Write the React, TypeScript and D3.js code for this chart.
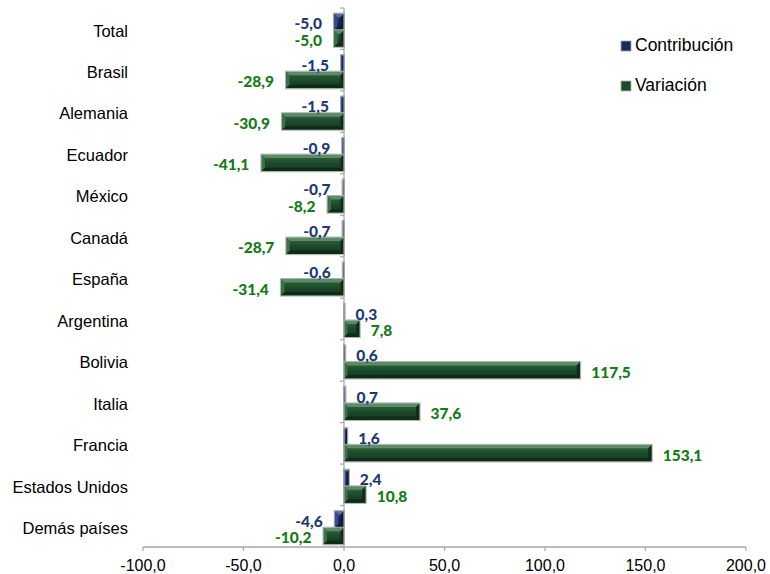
import React from "react";
import * as d3 from "d3";

const categories = [
  "Total", "Brasil", "Alemania", "Ecuador", "México", "Canadá", "España",
  "Argentina", "Bolivia", "Italia", "Francia", "Estados Unidos", "Demás países",
];
const contribucion = [-5.0, -1.5, -1.5, -0.9, -0.7, -0.7, -0.6, 0.3, 0.6, 0.7, 1.6, 2.4, -4.6];
const variacion = [-5.0, -28.9, -30.9, -41.1, -8.2, -28.7, -31.4, 7.8, 117.5, 37.6, 153.1, 10.8, -10.2];
const xTicks = [-100, -50, 0, 50, 100, 150, 200];
const seriesNames = ["Contribución", "Variación"];

const W = 770;
const H = 574;

const fmt = (v: number) => v.toFixed(1).replace(".", ",");

const palettes = [
  { id: "navy", center: ["#33467f", "#1a285c", "#121d48"], top: "#5b6aa0", bottom: "#0d1638", left: "#3a4b85", right: "#0f1a42", stroke: "#9aa3b8", label: "#1F3A73", dy: 2 },
  { id: "green", center: ["#2f6a40", "#1d4b2b", "#13371e"], top: "#5f8a69", bottom: "#0f2a17", left: "#3d7049", right: "#112d19", stroke: "#a7b6a9", label: "#157A18", dy: 2 },
];

function BevelBar({ x0, x1, y0, y1, p }: { x0: number; x1: number; y0: number; y1: number; p: typeof palettes[0] }) {
  const w = x1 - x0;
  const h = y1 - y0;
  const b = Math.min(3.5, w / 2, h / 2);
  const pts = (a: number[][]) => a.map((q) => q.join(",")).join(" ");
  return (
    <g>
      <rect x={x0} y={y0} width={Math.max(w, 0.5)} height={h} fill={`url(#grad-${p.id})`} />
      {w > 2 && (
        <>
          <polygon points={pts([[x0, y0], [x1, y0], [x1 - b, y0 + b], [x0 + b, y0 + b]])} fill={p.top} />
          <polygon points={pts([[x0, y1], [x1, y1], [x1 - b, y1 - b], [x0 + b, y1 - b]])} fill={p.bottom} />
          <polygon points={pts([[x0, y0], [x0 + b, y0 + b], [x0 + b, y1 - b], [x0, y1]])} fill={p.left} />
          <polygon points={pts([[x1, y0], [x1 - b, y0 + b], [x1 - b, y1 - b], [x1, y1]])} fill={p.right} />
        </>
      )}
      <rect x={x0 - 0.5} y={y0 - 0.5} width={Math.max(w, 0.5) + 1} height={h + 1} fill="none" stroke={p.stroke} strokeWidth={1} />
    </g>
  );
}

export default function App() {
  const x = d3.scaleLinear().domain([-100, 200]).range([143, 746]);
  const y = d3.scaleBand<string>().domain(categories).range([8, 547]).paddingInner(0.2).paddingOuter(0.1);
  const sub = d3.scaleBand<number>().domain([0, 1]).range([1.5, y.bandwidth() + 1.5]);
  const step = y.step();
  const x0 = x(0);
  const series = [contribucion, variacion];

  return (
    <svg width={W} height={H} style={{ position: "absolute", left: 0, top: 0 }}>
      <defs>
        {palettes.map((p) => (
          <linearGradient key={p.id} id={`grad-${p.id}`} x1="0" y1="0" x2="0" y2="1">
            <stop offset="0" stopColor={p.center[0]} />
            <stop offset="0.5" stopColor={p.center[1]} />
            <stop offset="1" stopColor={p.center[2]} />
          </linearGradient>
        ))}
      </defs>
      <rect width={W} height={H} fill="#fff" />

      {/* bars */}
      {categories.map((c, i) =>
        series.map((s, k) => {
          const v = s[i];
          const yy = (y(c) as number) + (sub(k) as number);
          const hh = sub.bandwidth();
          const xa = Math.min(x(v), x0);
          const xb = Math.max(x(v), x0);
          return <BevelBar key={c + k} x0={xa} x1={xb} y0={yy} y1={yy + hh} p={palettes[k]} />;
        })
      )}

      {/* vertical axis */}
      <line x1={x0} x2={x0} y1={8} y2={547} stroke="#a6a6a6" strokeWidth={1.2} />
      {d3.range(categories.length + 1).map((j) => (
        <line key={j} x1={x0 - 4} x2={x0} y1={8 + j * step} y2={8 + j * step} stroke="#a6a6a6" strokeWidth={1.2} />
      ))}

      {/* horizontal axis */}
      <line x1={x(-100)} x2={x(200)} y1={547} y2={547} stroke="#a6a6a6" strokeWidth={1.5} />
      {xTicks.map((t) => (
        <g key={t}>
          <line x1={x(t)} x2={x(t)} y1={547} y2={551} stroke="#a6a6a6" strokeWidth={1.2} />
          <text x={x(t)} y={571} textAnchor="middle" fontFamily="'Liberation Sans', Arial, sans-serif" fontSize={16} fill="#000">
            {fmt(t)}
          </text>
        </g>
      ))}

      {/* category labels */}
      {categories.map((c) => (
        <text key={c} x={128} y={(y(c) as number) + y.bandwidth() / 2 + 2} dy="0.35em" textAnchor="end" fontFamily="'Liberation Sans', Arial, sans-serif" fontSize={16.5} fill="#000">
          {c}
        </text>
      ))}

      {/* data labels */}
      {categories.map((c, i) =>
        series.map((s, k) => {
          const v = s[i];
          const cy = (y(c) as number) + (sub(k) as number) + sub.bandwidth() / 2 + palettes[k].dy;
          const neg = v < 0;
          return (
            <text key={c + "l" + k} x={neg ? x(v) - 12 : x(v) + 11} y={cy} dy="0.35em" textAnchor={neg ? "end" : "start"} fontFamily="Lato, 'Open Sans', sans-serif" fontWeight="900" fontSize={15.5} fill={palettes[k].label}>
              {fmt(v)}
            </text>
          );
        })
      )}

      {/* legend */}
      {seriesNames.map((n, k) => (
        <g key={n} transform={`translate(621, ${41 + k * 40})`}>
          <rect x={0} y={0} width={10} height={10} fill={palettes[k].center[1]} stroke={palettes[k].stroke} strokeWidth={0.8} />
          <text x={14} y={10} fontFamily="'Liberation Sans', Arial, sans-serif" fontSize={17.5} fill="#000">
            {n}
          </text>
        </g>
      ))}
    </svg>
  );
}
